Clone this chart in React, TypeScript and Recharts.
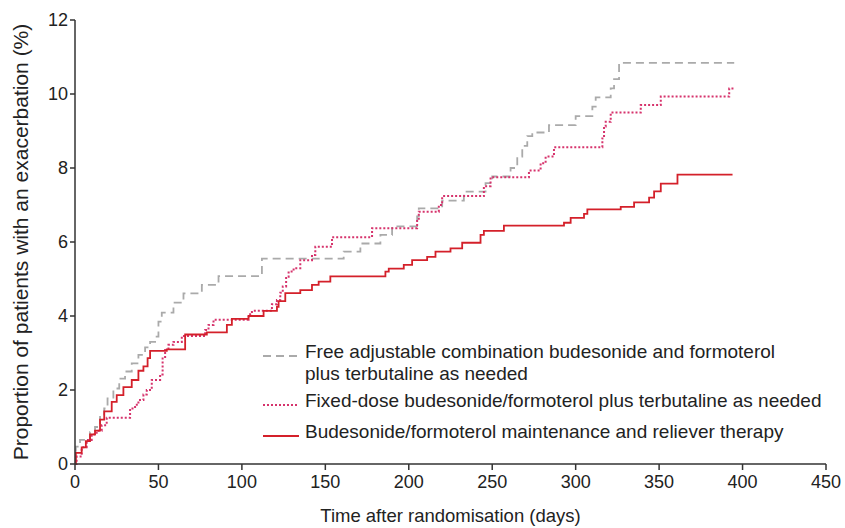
import { LineChart, Line, XAxis, YAxis, Legend } from 'recharts';

// Kaplan-Meier style cumulative curves, [day, % with exacerbation]
const freeCombination: [number, number][] = [
  [0, 0], [0.5, 0.47], [3, 0.65], [9, 0.86], [12, 1.0], [15, 1.32], [17.5, 1.5], [19.5, 1.77],
  [23, 2.04], [26.5, 2.31], [30, 2.5], [34, 2.72], [38, 2.95], [42, 3.15], [45, 3.3], [48, 3.44],
  [50, 3.85], [52, 4.09], [59, 4.36], [65, 4.61], [76, 4.84], [86, 5.08], [112, 5.55], [161, 5.74],
  [171, 5.96], [183, 6.19], [190, 6.42], [205, 6.69], [206, 6.91], [220, 7.12], [233, 7.36],
  [246, 7.59], [250, 7.77], [261, 8.0], [265, 8.31], [268, 8.6], [271, 8.86], [274, 8.96],
  [284, 9.16], [300, 9.4], [310, 9.66], [312, 9.91], [321, 10.15], [323, 10.4], [326, 10.84],
  [395, 10.84],
];

const fixedDose: [number, number][] = [
  [0, 0], [1, 0.2], [4, 0.45], [7, 0.65], [10, 0.8], [13, 0.9], [16, 1.05], [19, 1.25], [33, 1.5],
  [36, 1.6], [38, 1.73], [41, 1.88], [43, 2.0], [46, 2.27], [51, 2.42], [52.5, 2.85], [54, 3.08],
  [56, 3.22], [59, 3.3], [64, 3.46], [78, 3.62], [80, 3.76], [83, 3.9], [104, 4.05], [106, 4.14],
  [118, 4.32], [121, 4.43], [123, 4.63], [124.5, 4.8], [126.5, 5.06], [128, 5.2], [131, 5.29],
  [135, 5.51], [142, 5.65], [144, 5.87], [154, 6.13], [178, 6.37], [205, 6.6], [206, 6.82],
  [218, 7.0], [220, 7.24], [245, 7.51], [249, 7.75], [272, 7.93], [279, 8.13], [282, 8.31],
  [287, 8.56], [316, 8.8], [317, 9.12], [318, 9.25], [321, 9.5], [339, 9.7], [351, 9.93],
  [392, 10.15], [395, 10.15],
];

const maintenanceReliever: [number, number][] = [
  [0, 0], [0.5, 0.3], [4, 0.45], [6.5, 0.62], [9, 0.8], [12, 0.9], [15, 1.2], [17.5, 1.42],
  [22, 1.68], [25, 1.86], [29, 2.08], [34, 2.27], [38, 2.52], [41, 2.64], [43.5, 2.86], [45, 3.06],
  [55, 3.1], [66, 3.5], [79, 3.56], [91, 3.76], [94, 3.92], [104, 4.0], [113, 4.14], [121, 4.25],
  [122, 4.4], [126, 4.62], [135, 4.7], [142, 4.84], [146, 4.93], [153, 5.07], [186, 5.2],
  [188, 5.28], [197, 5.38], [202, 5.51], [211, 5.6], [216, 5.74], [225, 5.83], [232, 5.98],
  [243, 6.19], [245, 6.3], [257, 6.44], [293, 6.52], [297, 6.65], [305, 6.76], [307, 6.88],
  [327, 6.95], [335, 7.07], [344, 7.2], [347, 7.37], [351, 7.58], [361, 7.82], [394, 7.82],
];

const xTicks = [0, 50, 100, 150, 200, 250, 300, 350, 400, 450];
const yTicks = [0, 2, 4, 6, 8, 10, 12];

const toRows = (pts: [number, number][]) => pts.map(([d, v]) => ({ d, v }));

const font = '"Liberation Sans", Arial, sans-serif';
const axisColor = '#333';

const series = [
  { name: 'free', data: toRows(freeCombination), color: '#aaaaaa', dash: '8 5', width: 1.8 },
  { name: 'fixed', data: toRows(fixedDose), color: '#d6336c', dash: '2 2', width: 2 },
  { name: 'smart', data: toRows(maintenanceReliever), color: '#d4202a', dash: undefined, width: 1.8 },
];

function LegendBox() {
  const sample = (color: string, dash?: string) => (
    <svg width={38} height={10} style={{ flex: 'none', marginRight: 5 }}>
      <line x1={1} y1={5} x2={37} y2={5} stroke={color} strokeWidth={1.8} strokeDasharray={dash} />
    </svg>
  );
  const row = { display: 'flex', alignItems: 'flex-start' } as const;
  const text = { fontSize: 19, lineHeight: '22px', color: '#222', fontFamily: font, whiteSpace: 'nowrap' } as const;
  return (
    <div style={{ width: 580 }}>
      <div style={row}>
        <div style={{ paddingTop: 6 }}>{sample('#aaaaaa', '8 5')}</div>
        <div style={text}>
          Free adjustable combination budesonide and formoterol
          <br />
          plus terbutaline as needed
        </div>
      </div>
      <div style={{ ...row, marginTop: 5 }}>
        <div style={{ paddingTop: 6 }}>{sample('#d6336c', '2 2')}</div>
        <div style={text}>Fixed-dose budesonide/formoterol plus terbutaline as needed</div>
      </div>
      <div style={{ ...row, marginTop: 7 }}>
        <div style={{ paddingTop: 6 }}>{sample('#d4202a')}</div>
        <div style={text}>Budesonide/formoterol maintenance and reliever therapy</div>
      </div>
    </div>
  );
}

export default function App() {
  return (
    <div style={{ position: 'absolute', left: 0, top: 0, background: '#fff' }}>
      <LineChart width={845} height={528} margin={{ top: 20, right: 19, bottom: 0, left: 0 }}>
        <XAxis
          dataKey="d"
          type="number"
          domain={[0, 450]}
          ticks={xTicks}
          allowDuplicatedCategory={false}
          height={64}
          stroke={axisColor}
          strokeWidth={1.5}
          tickSize={6}
          tickMargin={5}
          tick={{ fill: '#222', fontSize: 18, fontFamily: font }}
          label={{
            value: 'Time after randomisation (days)',
            position: 'insideBottom',
            offset: 6,
            fill: '#222',
            fontSize: 18.5,
            fontFamily: font,
          }}
        />
        <YAxis
          type="number"
          domain={[0, 12]}
          ticks={yTicks}
          width={75}
          stroke={axisColor}
          strokeWidth={1.5}
          tickSize={5}
          tickMargin={2}
          tick={{ fill: '#222', fontSize: 18, fontFamily: font }}
          label={{
            value: 'Proportion of patients with an exacerbation (%)',
            angle: -90,
            position: 'insideLeft',
            offset: 21,
            style: { textAnchor: 'middle' },
            fill: '#222',
            fontSize: 21,
            fontFamily: font,
          }}
        />
        {series.map((s) => (
          <Line
            key={s.name}
            data={s.data}
            dataKey="v"
            type="stepAfter"
            stroke={s.color}
            strokeWidth={s.width}
            strokeDasharray={s.dash}
            dot={false}
            activeDot={false}
            isAnimationActive={false}
          />
        ))}
        <Legend
          layout="horizontal"
          verticalAlign="middle"
          content={() => <LegendBox />}
          wrapperStyle={{ left: 262, top: 341, width: 580 }}
        />
      </LineChart>
    </div>
  );
}
